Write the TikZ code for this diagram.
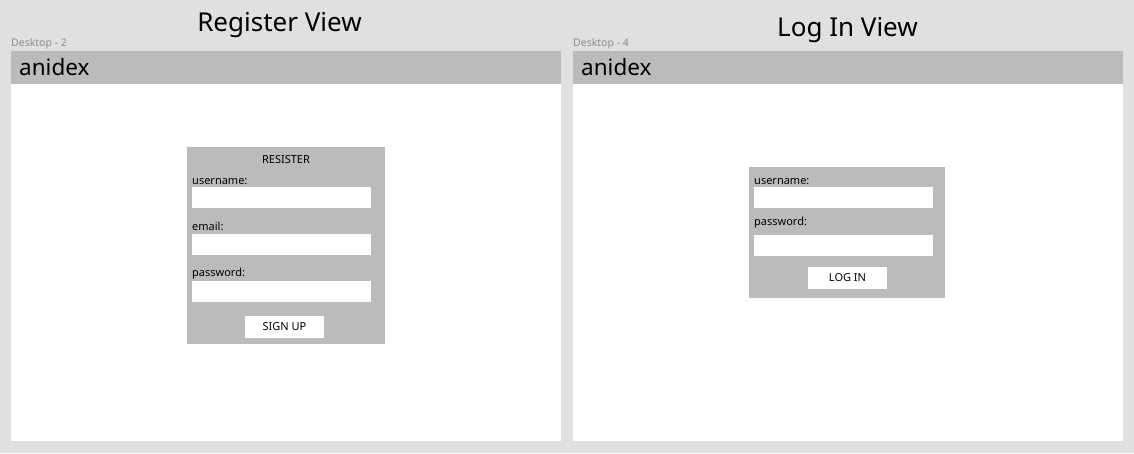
\documentclass[tikz,border=0pt]{standalone}
\usepackage{fontspec}
\setmainfont{Noto Sans}
\usetikzlibrary{positioning}
\definecolor{canvas}{HTML}{E0E0E0}
\definecolor{bar}{HTML}{BBBBBB}
\definecolor{caption}{HTML}{8C8C8C}

\begin{document}
\begin{tikzpicture}[x=1pt,y=-1pt,
            box/.style = {anchor=north west, inner sep=0pt, outer sep=0pt},
            frame/.style = {box, fill=white,
                minimum width=550pt, minimum height=390pt},
            header/.style = {box, fill=bar,
                minimum width=550pt, minimum height=33pt},
            field/.style = {box, fill=white,
                minimum width=179pt, minimum height=21pt},
            button/.style = {box, fill=white,
                minimum width=79pt, minimum height=22pt,
                font=\fontsize{11}{12}\selectfont},
            label/.style = {anchor=base west, inner sep=0pt,
                font=\fontsize{11}{12}\selectfont},
            title/.style = {anchor=base, inner sep=0pt,
                font=\fontsize{26}{28}\selectfont},
            brand/.style = {anchor=base west, inner sep=0pt,
                font=\fontsize{22.5}{24}\selectfont},
            caption/.style = {anchor=base west, inner sep=0pt,
                text=caption, font=\fontsize{10.5}{11}\selectfont}]

        % Canvas
        \fill[canvas] (0,0) rectangle (1134,453);
        \useasboundingbox (0,0) rectangle (1134,453);

        % Register view
        \node[title] (regtitle) at (279.5,31) {Register View};
        \node[caption] (regcap) at (11,46) {Desktop - 2};
        \node[frame] (regframe) at (11,51) {};
        \node[header] (regbar) at (11,51) {};
        \node[brand] (regbrand) at (19,75) {anidex};

        \node[box, fill=bar, minimum width=198pt, minimum height=197pt] (regform) at (187,147) {};
        \node[label, anchor=base] (regheading) at (286,163) {RESISTER};
        \node[label] (reguserlbl) at (192,184) {username:};
        \node[field] (reguser) at (192,187) {};
        \node[label] (regmaillbl) at (192,230) {email:};
        \node[field] (regmail) at (192,234) {};
        \node[label] (regpasslbl) at (192,276) {password:};
        \node[field] (regpass) at (192,281) {};
        \node[button] (signup) at (245,316) {SIGN UP};

        % Log in view
        \node[title] (logtitle) at (847.5,36) {Log In View};
        \node[caption] (logcap) at (573,46) {Desktop - 4};
        \node[frame] (logframe) at (573,51) {};
        \node[header] (logbar) at (573,51) {};
        \node[brand] (logbrand) at (581,75) {anidex};

        \node[box, fill=bar, minimum width=196pt, minimum height=131pt] (logform) at (749,167) {};
        \node[label] (loguserlbl) at (754,184) {username:};
        \node[field] (loguser) at (754,187) {};
        \node[label] (logpasslbl) at (754,225) {password:};
        \node[field] (logpass) at (754,235) {};
        \node[button] (login) at (808,267) {LOG IN};

\end{tikzpicture}
\end{document}
